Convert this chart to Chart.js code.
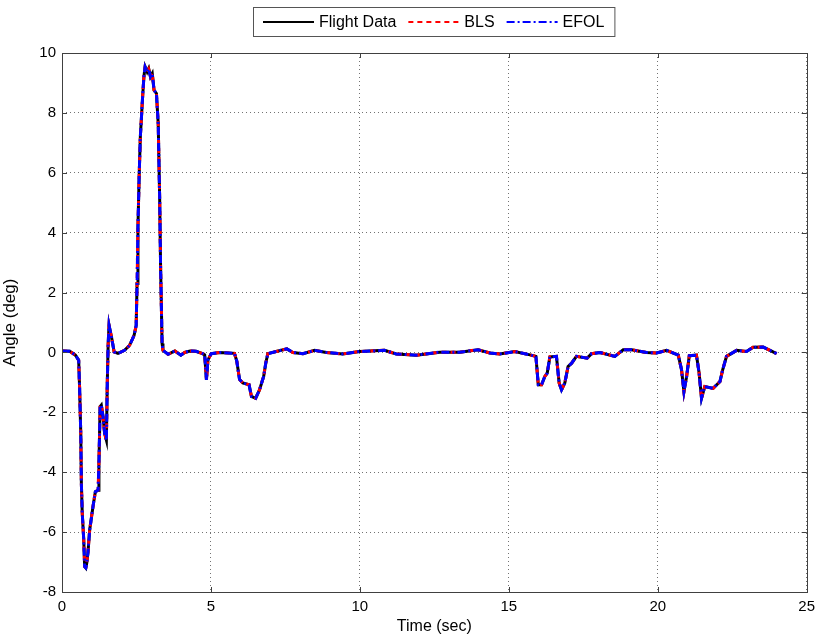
<!DOCTYPE html>
<html>
<head>
<meta charset="utf-8">
<script src="https://cdn.jsdelivr.net/npm/chart.js@4.4.1/dist/chart.umd.min.js"></script>
<style>
  html, body { margin: 0; padding: 0; background: #fff; }
  #wrap { width: 821px; height: 642px; }
</style>
</head>
<body>
<div id="wrap"><canvas id="chart" width="821" height="642"></canvas></div>
<script>
// time stamps (sec)
const timeSec = [
  0.00, 0.26, 0.45, 0.56, 0.59, 0.63, 0.65, 0.68, 0.73, 0.76, 0.80, 0.83, 0.87, 0.93,
  1.04, 1.12, 1.21, 1.24, 1.28, 1.32, 1.38, 1.43, 1.49, 1.52, 1.55, 1.58, 1.66, 1.75,
  1.88, 2.10, 2.27, 2.42, 2.49, 2.52, 2.55, 2.59, 2.63, 2.70, 2.75, 2.79, 2.86, 2.91,
  2.97, 3.03, 3.09, 3.17, 3.23, 3.28, 3.31, 3.36, 3.39, 3.56, 3.79, 3.99, 4.12, 4.30,
  4.50, 4.74, 4.79, 4.85, 4.90, 5.01, 5.29, 5.79, 5.87, 5.96, 6.07, 6.28, 6.36, 6.50,
  6.63, 6.77, 6.84, 6.91, 7.19, 7.55, 7.75, 8.09, 8.48, 8.87, 9.43, 9.99, 10.83, 11.22,
  11.90, 12.68, 13.35, 13.97, 14.37, 14.70, 15.20, 15.71, 15.91, 15.99, 16.10, 16.21, 16.29, 16.38,
  16.60, 16.69, 16.77, 16.88, 16.99, 17.11, 17.27, 17.63, 17.78, 18.06, 18.56, 18.84, 19.12, 19.62,
  19.96, 20.30, 20.69, 20.80, 20.88, 20.97, 21.06, 21.30, 21.39, 21.47, 21.58, 21.86, 22.09, 22.18,
  22.31, 22.65, 22.98, 23.20, 23.54, 23.77, 23.99
];

// angle (deg) per series
const flightData = [
  0.05, 0.04, -0.09, -0.26, -1.15, -2.70, -4.37, -5.37, -6.26, -7.15, -7.20, -7.04, -6.70, -5.92,
  -5.15, -4.65, -4.60, -3.70, -1.81, -1.76, -2.15, -2.70, -2.93, -1.04, 0.30, 0.91, 0.52, 0.02,
  -0.03, 0.07, 0.24, 0.57, 0.90, 2.30, 4.20, 5.87, 7.20, 8.43, 9.21, 9.54, 9.37, 9.48,
  9.21, 9.32, 8.76, 8.65, 7.65, 5.09, 2.86, 0.30, 0.07, -0.06, 0.05, -0.09, 0.00, 0.05,
  0.04, -0.05, -0.08, -0.92, -0.25, -0.04, 0.00, -0.03, -0.30, -0.90, -1.02, -1.08, -1.47, -1.53,
  -1.25, -0.80, -0.36, -0.04, 0.03, 0.12, 0.00, -0.04, 0.07, 0.00, -0.05, 0.03, 0.07, -0.05,
  -0.09, 0.01, 0.01, 0.09, -0.02, -0.05, 0.03, -0.08, -0.13, -1.08, -1.08, -0.80, -0.69, -0.15,
  -0.13, -1.02, -1.25, -1.02, -0.47, -0.36, -0.13, -0.19, -0.04, 0.00, -0.13, 0.09, 0.09, 0.00,
  -0.02, 0.07, -0.09, -0.58, -1.31, -0.80, -0.11, -0.09, -0.69, -1.53, -1.14, -1.20, -0.97, -0.58,
  -0.13, 0.07, 0.03, 0.17, 0.18, 0.07, -0.04
];
const blsData = [
  0.05, 0.04, -0.09, -0.26, -1.15, -2.70, -4.37, -5.37, -6.26, -7.15, -7.18, -7.04, -6.70, -5.92,
  -5.15, -4.65, -4.60, -3.70, -1.81, -1.76, -2.15, -2.70, -2.93, -1.04, 0.30, 0.89, 0.52, 0.02,
  -0.03, 0.07, 0.24, 0.57, 0.90, 2.30, 4.20, 5.87, 7.20, 8.43, 9.21, 9.52, 9.37, 9.46,
  9.21, 9.32, 8.76, 8.65, 7.65, 5.09, 2.86, 0.30, 0.07, -0.06, 0.05, -0.09, 0.00, 0.05,
  0.04, -0.05, -0.08, -0.92, -0.25, -0.04, 0.00, -0.03, -0.30, -0.90, -1.02, -1.08, -1.47, -1.53,
  -1.25, -0.80, -0.36, -0.04, 0.03, 0.12, 0.00, -0.04, 0.07, 0.00, -0.05, 0.03, 0.07, -0.05,
  -0.09, 0.01, 0.01, 0.09, -0.02, -0.05, 0.03, -0.08, -0.13, -1.08, -1.08, -0.80, -0.69, -0.15,
  -0.13, -1.02, -1.25, -1.02, -0.47, -0.36, -0.13, -0.19, -0.04, 0.00, -0.13, 0.09, 0.09, 0.00,
  -0.02, 0.07, -0.09, -0.58, -1.31, -0.80, -0.11, -0.09, -0.69, -1.53, -1.14, -1.20, -0.97, -0.58,
  -0.13, 0.07, 0.03, 0.17, 0.18, 0.07, -0.04
];
const efolData = [
  0.05, 0.04, -0.09, -0.26, -1.15, -2.70, -4.37, -5.37, -6.26, -7.15, -7.19, -7.04, -6.70, -5.92,
  -5.15, -4.65, -4.60, -3.70, -1.81, -1.76, -2.15, -2.70, -2.93, -1.04, 0.30, 0.90, 0.52, 0.02,
  -0.03, 0.07, 0.24, 0.57, 0.90, 2.30, 4.20, 5.87, 7.20, 8.43, 9.21, 9.53, 9.37, 9.47,
  9.21, 9.32, 8.76, 8.65, 7.65, 5.09, 2.86, 0.30, 0.07, -0.06, 0.05, -0.09, 0.00, 0.05,
  0.04, -0.05, -0.08, -0.92, -0.25, -0.04, 0.00, -0.03, -0.30, -0.90, -1.02, -1.08, -1.47, -1.53,
  -1.25, -0.80, -0.36, -0.04, 0.03, 0.12, 0.00, -0.04, 0.07, 0.00, -0.05, 0.03, 0.07, -0.05,
  -0.09, 0.01, 0.01, 0.09, -0.02, -0.05, 0.03, -0.08, -0.13, -1.08, -1.08, -0.80, -0.69, -0.15,
  -0.13, -1.02, -1.25, -1.02, -0.47, -0.36, -0.13, -0.19, -0.04, 0.00, -0.13, 0.09, 0.09, 0.00,
  -0.02, 0.07, -0.09, -0.58, -1.31, -0.80, -0.11, -0.09, -0.69, -1.53, -1.14, -1.20, -0.97, -0.58,
  -0.13, 0.07, 0.03, 0.17, 0.18, 0.07, -0.04
];

const seriesNames = ['Flight Data', 'BLS', 'EFOL'];
const xTicks = [0, 5, 10, 15, 20, 25];
const yTicks = [-8, -6, -4, -2, 0, 2, 4, 6, 8, 10];

const FONT = '"Liberation Sans", Arial, sans-serif';

function toPoints(values) {
  return values.map((v, i) => ({ x: timeSec[i], y: v }));
}

// box around the axes plus inward ticks on all four sides, matlab style
const framePlugin = {
  id: 'frame',
  afterDraw(chart) {
    const { ctx, chartArea, scales } = chart;
    const { left, right, top, bottom } = chartArea;
    const len = 5;
    ctx.save();
    ctx.strokeStyle = '#404040';
    ctx.lineWidth = 1;
    ctx.beginPath();
    for (const t of xTicks) {
      const px = Math.round(scales.x.getPixelForValue(t)) + 0.5;
      ctx.moveTo(px, bottom); ctx.lineTo(px, bottom - len);
      ctx.moveTo(px, top); ctx.lineTo(px, top + len);
    }
    for (const t of yTicks) {
      const py = Math.round(scales.y.getPixelForValue(t)) + 0.5;
      ctx.moveTo(left, py); ctx.lineTo(left + len, py);
      ctx.moveTo(right, py); ctx.lineTo(right - len, py);
    }
    ctx.stroke();
    ctx.strokeRect(Math.round(left) + 0.5, Math.round(top) + 0.5,
      Math.round(right - left), Math.round(bottom - top));
    ctx.restore();
  }
};

// legend drawn in a boxed row above the axes
const legendPlugin = {
  id: 'boxLegend',
  afterDraw(chart) {
    const { ctx } = chart;
    const boxLeft = 253, boxTop = 7, boxH = 29;
    const lineLen = 51, gapLine = 5, gapItem = 12, padL = 10, padR = 10;
    const cy = boxTop + boxH / 2;
    ctx.save();
    ctx.font = '16px ' + FONT;
    ctx.textBaseline = 'middle';
    let x = boxLeft + padL;
    const items = chart.data.datasets.slice().sort((a, b) => a.legendIndex - b.legendIndex);
    const spans = [];
    for (const ds of items) {
      const w = ctx.measureText(ds.label).width;
      spans.push({ ds, x, w });
      x += lineLen + gapLine + w + gapItem;
    }
    const boxW = x - gapItem + padR - boxLeft;
    ctx.fillStyle = '#fff';
    ctx.fillRect(boxLeft, boxTop, boxW, boxH);
    ctx.strokeStyle = '#555';
    ctx.lineWidth = 1;
    ctx.strokeRect(boxLeft + 0.5, boxTop + 0.5, boxW, boxH);
    for (const s of spans) {
      ctx.strokeStyle = s.ds.borderColor;
      ctx.lineWidth = 2;
      ctx.setLineDash(s.ds.borderDash || []);
      ctx.beginPath();
      ctx.moveTo(s.x, cy + 0.5);
      ctx.lineTo(s.x + lineLen, cy + 0.5);
      ctx.stroke();
      ctx.setLineDash([]);
      ctx.fillStyle = '#000';
      ctx.fillText(s.ds.label, s.x + lineLen + gapLine, cy + 1);
    }
    ctx.restore();
  }
};

const datasets = [
  {
    label: seriesNames[2], legendIndex: 2, data: toPoints(efolData),
    borderColor: '#0000ff', borderWidth: 3, borderDash: [8, 3, 2, 3], order: 1
  },
  {
    label: seriesNames[1], legendIndex: 1, data: toPoints(blsData),
    borderColor: '#ff0000', borderWidth: 3, borderDash: [5, 4], order: 2
  },
  {
    label: seriesNames[0], legendIndex: 0, data: toPoints(flightData),
    borderColor: '#000000', borderWidth: 3, order: 3
  }
];

const chart = new Chart(document.getElementById('chart'), {
  type: 'line',
  data: { datasets },
  options: {
    responsive: false,
    animation: false,
    layout: { padding: { top: 53, right: 14, left: 0, bottom: 0 } },
    elements: { point: { radius: 0 }, line: { tension: 0, fill: false } },
    plugins: { legend: { display: false }, tooltip: { enabled: false } },
    scales: {
      x: {
        type: 'linear', min: 0, max: 25,
        afterBuildTicks: (s) => { s.ticks = xTicks.map(v => ({ value: v })); },
        afterFit: (s) => { s.height = 50; },
        grid: { color: 'rgba(0,0,0,0.55)', lineWidth: 1, drawTicks: false },
        border: { display: false, dash: [1, 3] },
        ticks: { color: '#000', font: { family: FONT, size: 15 }, padding: 6, maxRotation: 0 },
        title: {
          display: true, text: 'Time (sec)', color: '#000',
          font: { family: FONT, size: 16 }, padding: { top: 0, bottom: 6 }
        }
      },
      y: {
        type: 'linear', min: -8, max: 10,
        afterBuildTicks: (s) => { s.ticks = yTicks.map(v => ({ value: v })); },
        afterFit: (s) => { s.width = 62; },
        grid: { color: 'rgba(0,0,0,0.55)', lineWidth: 1, drawTicks: false },
        border: { display: false, dash: [1, 3] },
        ticks: { color: '#000', font: { family: FONT, size: 15 }, padding: 6 },
        title: {
          display: true, text: 'Angle (deg)', color: '#000',
          font: { family: FONT, size: 17 }, padding: { top: 0, bottom: 10 }
        }
      }
    }
  },
  plugins: [framePlugin, legendPlugin]
});
</script>
</body>
</html>
